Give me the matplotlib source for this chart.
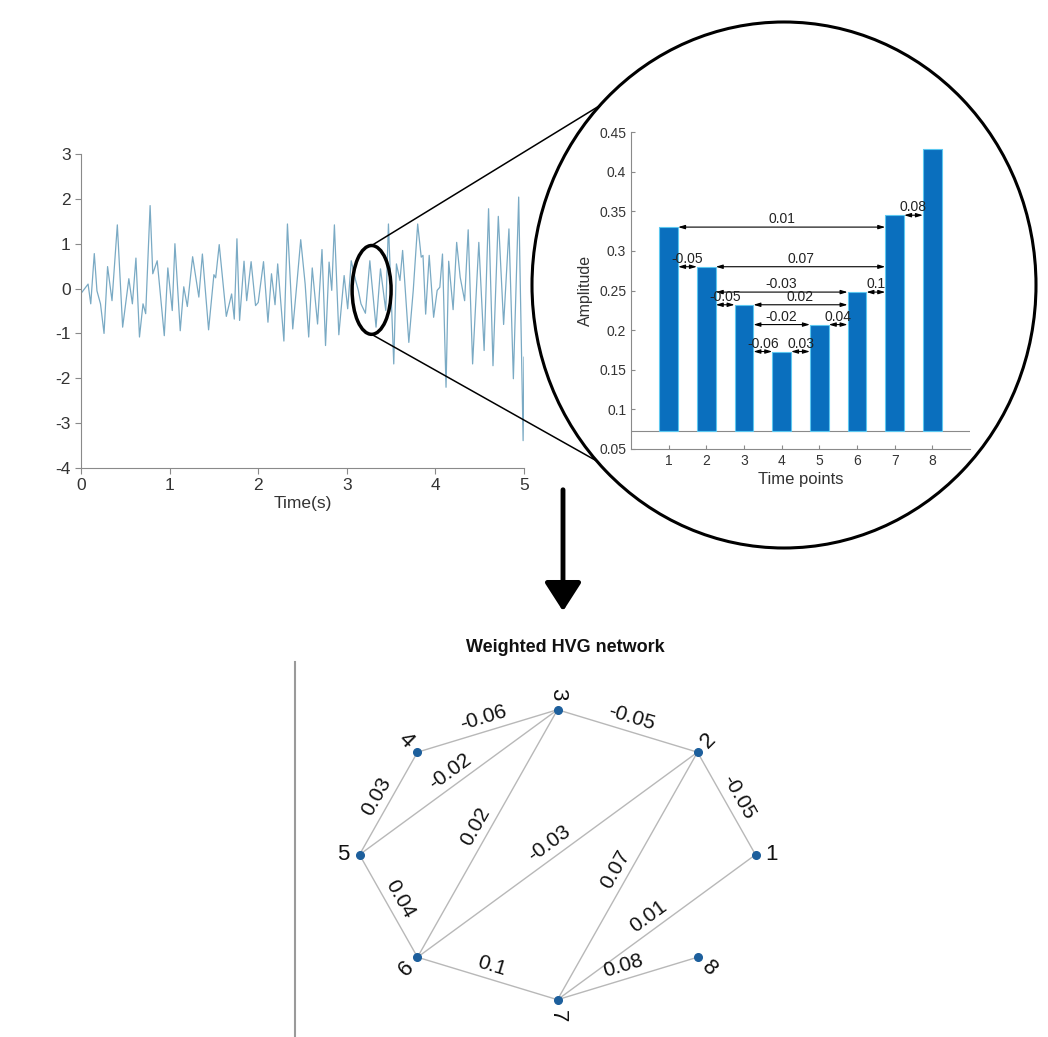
import numpy as np
import matplotlib.pyplot as plt
from matplotlib.patches import Ellipse, FancyArrowPatch
from matplotlib.lines import Line2D

plt.rcParams['font.family'] = ['Liberation Sans', 'DejaVu Sans']
plt.rcParams['axes.unicode_minus'] = False

# ── DATA ────────────────────────────────────────────────
# signal turning points (time s, amplitude)
t_pts = [0.00, 0.08, 0.11, 0.15, 0.18, 0.22, 0.26, 0.30, 0.35, 0.41, 0.47, 0.54,
         0.58, 0.62, 0.66, 0.70, 0.73, 0.78, 0.81, 0.86, 0.94, 0.98, 1.03, 1.06,
         1.12, 1.16, 1.20, 1.26, 1.33, 1.37, 1.44, 1.50, 1.52, 1.56, 1.64, 1.70,
         1.73, 1.76, 1.79, 1.84, 1.87, 1.92, 1.97, 2.00, 2.06, 2.11, 2.15, 2.19,
         2.22, 2.29, 2.33, 2.39, 2.44, 2.48, 2.53, 2.57, 2.61, 2.67, 2.72, 2.76,
         2.80, 2.83, 2.86, 2.91, 2.97, 3.01, 3.05, 3.10, 3.13, 3.16, 3.21, 3.26,
         3.28, 3.33, 3.38, 3.44, 3.47, 3.53, 3.56, 3.60, 3.63, 3.70, 3.75, 3.80,
         3.84, 3.86, 3.89, 3.93, 3.98, 4.02, 4.05, 4.08, 4.12, 4.15, 4.20, 4.24,
         4.28, 4.33, 4.37, 4.42, 4.49, 4.55, 4.60, 4.65, 4.71, 4.77, 4.83, 4.88,
         4.94, 4.99, 5.00]
y_pts = [-0.11, 0.10, -0.34, 0.78, -0.05, -0.34, -1.00, 0.49, -0.27, 1.42, -0.86, 0.22,
         -0.34, 0.68, -1.08, -0.34, -0.56, 1.85, 0.33, 0.62, -1.05, 0.46, -0.49, 1.00,
         -0.94, 0.04, -0.40, 0.71, -0.19, 0.77, -0.92, 0.31, 0.24, 0.98, -0.62, -0.12,
         -0.68, 1.11, -0.71, 0.61, -0.27, 0.60, -0.38, -0.31, 0.60, -0.75, 0.33, -0.36,
         0.55, -1.17, 1.44, -0.90, 0.19, 1.09, 0.10, -1.08, 0.46, -0.79, 0.87, -1.27,
         0.59, -0.04, 1.42, -1.03, 0.29, -0.45, 0.62, 0.18, -0.04, -0.34, -0.55, 0.62,
         0.18, -0.86, 0.44, -0.49, 1.44, -1.68, 0.55, 0.18, 0.85, -1.20, -0.04, 1.44,
         0.70, 0.74, -0.57, 0.74, -0.64, -0.04, 0.03, 0.77, -2.20, 0.61, -0.47, 1.03,
         0.25, -0.27, 1.31, -1.68, 1.03, -1.38, 1.78, -1.72, 1.61, -0.80, 1.33, -2.01,
         2.04, -3.39, -1.53]

# zoomed window: amplitude at 8 time points
time_points = [1, 2, 3, 4, 5, 6, 7, 8]
amplitude = [0.33, 0.28, 0.232, 0.173, 0.207, 0.248, 0.345, 0.429]
bar_base = 0.073

# weighted HVG edges (node i, node j, weight)
edge_i = [1, 1, 2, 2, 2, 3, 3, 3, 4, 5, 6, 7]
edge_j = [2, 7, 3, 6, 7, 4, 5, 6, 5, 6, 7, 8]
edge_w = ["-0.05", "0.01", "-0.05", "-0.03", "0.07", "-0.06", "-0.02", "0.02",
          "0.03", "0.04", "0.1", "0.08"]

W, H = 1048, 1037
fig = plt.figure(figsize=(W / 100, H / 100), dpi=100)


def fx(px):
    return px / W


def fy(py):
    return 1 - py / H


# ── SIGNAL ─────────────────────────────────────────────
ax = fig.add_axes([fx(81), fy(468), (524 - 81) / W, (468 - 154) / H])
ax.plot(t_pts, y_pts, color="#7aaac4", lw=0.9)
ax.set_xlim(0, 5)
ax.set_ylim(-4, 3)
ax.set_xticks(range(0, 6))
ax.set_yticks(range(-4, 4))
for s in ["top", "right"]:
    ax.spines[s].set_visible(False)
for s in ["left", "bottom"]:
    ax.spines[s].set_color("#8a8a8a")
ax.tick_params(colors="#8a8a8a", labelcolor="#333333", labelsize=12.5, length=4)
ax.set_xlabel("Time(s)", fontsize=12.5, color="#333333", labelpad=2)

# small ellipse around the zoomed window
ecx, ecy, ew, eh = 3.28, -0.03, 0.44, 1.98
ax.add_patch(Ellipse((ecx, ecy), ew, eh, fill=False, lw=2.5, color="black",
                     clip_on=False, zorder=5))

# ── INSET BAR CHART ───────────────────────────────────
bx = fig.add_axes([fx(631), fy(449), (970 - 631) / W, (449 - 132) / H])
bx.patch.set_alpha(0)
heights = [a - bar_base for a in amplitude]
bx.bar(time_points, heights, bottom=bar_base, width=0.5, color="#0a6fbe",
       edgecolor="#5cc8f0", lw=0.8, zorder=3)
bx.axhline(bar_base, color="#8a8a8a", lw=0.8, zorder=1)
bx.set_xlim(0, 9)
bx.set_ylim(0.05, 0.45)
bx.set_xticks(time_points)
bx.set_yticks([0.05, 0.1, 0.15, 0.2, 0.25, 0.3, 0.35, 0.4, 0.45])
bx.set_yticklabels(["0.05", "0.1", "0.15", "0.2", "0.25", "0.3", "0.35", "0.4", "0.45"])
for s in ["top", "right"]:
    bx.spines[s].set_visible(False)
for s in ["left", "bottom"]:
    bx.spines[s].set_color("#8a8a8a")
bx.tick_params(direction="in", colors="#8a8a8a", labelcolor="#333333",
               labelsize=10, length=3)
bx.set_xlabel("Time points", fontsize=12, color="#333333", labelpad=3)
bx.set_ylabel("Amplitude", fontsize=11.5, color="#333333", labelpad=4)

half = 0.25
for i, j, w in zip(edge_i, edge_j, edge_w):
    yv = min(amplitude[i - 1], amplitude[j - 1])
    x0, x1 = time_points[i - 1] + half, time_points[j - 1] - half
    bx.annotate("", xy=(x1, yv), xytext=(x0, yv),
                arrowprops=dict(arrowstyle="<|-|>,head_length=0.4,head_width=0.12",
                                color="black", lw=0.8, shrinkA=0, shrinkB=0),
                zorder=2)
    bx.text((x0 + x1) / 2, yv + 0.001, w, ha="center", va="bottom",
            fontsize=10, color="#222222", zorder=4)

# ── BIG CIRCLE + CONNECTORS ───────────────────────────
ccx, ccy, ca, cb = 784, 285, 252, 263
fig.add_artist(Ellipse((fx(ccx), fy(ccy)), 2 * ca / W, 2 * cb / H,
                       transform=fig.transFigure, fill=False, lw=2.2,
                       color="black"))

top_disp = ax.transData.transform((ecx, ecy + eh / 2))
bot_disp = ax.transData.transform((ecx, ecy - eh / 2))
for start, th in [(top_disp, 137), (bot_disp, 222)]:
    ex = ccx + ca * np.cos(np.radians(th))
    ey = ccy - cb * np.sin(np.radians(th))
    fig.add_artist(Line2D([start[0] / W, fx(ex)], [start[1] / H, fy(ey)],
                          transform=fig.transFigure, color="black", lw=1.1))

# ── DOWN ARROW ───────────────────────────────────────
fig.add_artist(FancyArrowPatch((fx(563), fy(487)), (fx(563), fy(614)),
                               transform=fig.transFigure,
                               arrowstyle="-|>,head_length=0.7,head_width=0.45",
                               mutation_scale=25, lw=3.5, color="black"))

# ── WEIGHTED HVG NETWORK ─────────────────────────────
fig.text(fx(565), fy(647), "Weighted HVG network", ha="center", va="center",
         fontsize=13, fontweight="bold", color="#111111")

nx = fig.add_axes([fx(295), 0, (820 - 295) / W, (H - 662) / H])
nx.patch.set_alpha(0)
nx.set_xlim(-262.5 / 198, 262.5 / 198)
nx.set_ylim(-182.3 / 145, 192.7 / 145)
nx.set_xticks([])
nx.set_yticks([])
for s in ["top", "right", "bottom"]:
    nx.spines[s].set_visible(False)
nx.spines["left"].set_color("#9a9a9a")
nx.spines["left"].set_linewidth(1.5)

nodes = list(range(1, 9))
angles = [(n - 1) * 45 for n in nodes]
pos = {n: (np.cos(np.radians(a)), np.sin(np.radians(a))) for n, a in zip(nodes, angles)}

for i, j, w in zip(edge_i, edge_j, edge_w):
    (x1, y1), (x2, y2) = pos[i], pos[j]
    nx.plot([x1, x2], [y1, y2], color="#b8b8b8", lw=1.0, zorder=1)
    p1 = nx.transData.transform((x1, y1))
    p2 = nx.transData.transform((x2, y2))
    d = p2 - p1
    ang = np.degrees(np.arctan2(d[1], d[0]))
    if ang > 90:
        ang -= 180
    elif ang <= -90:
        ang += 180
    nrm = np.array([-np.sin(np.radians(ang)), np.cos(np.radians(ang))])
    lp = nx.transData.inverted().transform((p1 + p2) / 2 + 4 * nrm)
    nx.text(lp[0], lp[1], w, rotation=ang, rotation_mode="anchor",
            ha="center", va="bottom", fontsize=15, color="#111111")

for n, a in zip(nodes, angles):
    x, y = pos[n]
    nx.plot(x, y, "o", color="#1d5f9c", ms=5.5, zorder=3)
    p = nx.transData.transform((x, y))
    lp = nx.transData.inverted().transform(
        p + 16 * np.array([np.cos(np.radians(a)), np.sin(np.radians(a))]))
    an = (a + 180) % 360 - 180
    rot = an if -90 <= an < 90 else an - 180
    nx.text(lp[0], lp[1], str(n), rotation=rot, rotation_mode="anchor",
            ha="center", va="center", fontsize=16, color="#111111")

fig.savefig("out.png", dpi=100)
